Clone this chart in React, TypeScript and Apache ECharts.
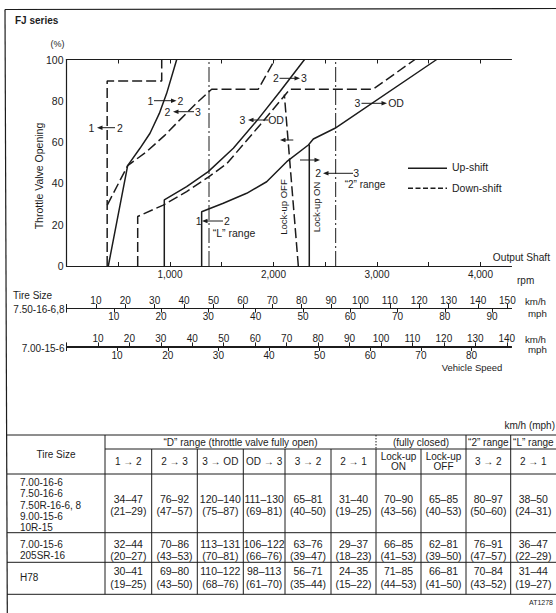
import React, { useEffect, useRef } from 'react';
import * as echarts from 'echarts';

const FONT = '"Liberation Sans",Arial,Helvetica,sans-serif';
const INK = '#1c1c1c';

// ---------- shift diagram data (output shaft rpm, throttle %) ----------
const rpmTicks = [500, 1000, 1500, 2000, 2500, 3000, 3500, 4000];
const rpmLabels = [1000, 2000, 3000, 4000];
const RPM_MAX = 4300;

const upShift12 = [[404, 0], [591, 48.6], [710, 57], [807, 64.3], [897, 73.9], [968, 83.6], [1065, 100]];
const upShift23 = [[945, 0], [945, 32], [1161, 38.4], [1370, 45.7], [1612, 57], [1850, 71], [2063, 84.5], [2300, 100]];
const upShift3OD = [[1306, 0], [1306, 26.3], [1515, 30.4], [1741, 35.2], [1934, 40.8], [2128, 50.5], [2337, 58.6], [2385, 61.5], [2594, 66.7], [3577, 100]];
const downShift21 = [[393, 0], [393, 89.6], [920, 89.6], [920, 100]];
const downShift32 = [[394, 29.5], [591, 48.6], [775, 55.4], [952, 63.4], [1100, 71], [1258, 79], [1403, 85.6], [1853, 85.6], [2014, 100]];
const downShiftOD3 = [[688, 0], [688, 24], [935, 29.5], [1161, 36], [1370, 43], [1548, 49.5], [1870, 68.3], [2159, 85.6], [2963, 85.6], [3367, 100]];
const lockUpOn = [[2346, 0], [2346, 58.8]];
const lockUpOff = [[2240, 0], [2105, 83]];
const rangeL21 = [[1377, 0], [1377, 100]];
const range2_32 = [[2601, 0], [2601, 100]];

// ---------- vehicle speed scales ----------
const kmh750Ticks = [0, 10, 20, 30, 40, 50, 60, 70, 80, 90, 100, 110, 120, 130, 140, 150];
const mph750Ticks = [0, 10, 20, 30, 40, 50, 60, 70, 80, 90];
const kmh700Ticks = [0, 10, 20, 30, 40, 50, 60, 70, 80, 90, 100, 110, 120, 130, 140];
const mph700Ticks = [0, 10, 20, 30, 40, 50, 60, 70, 80];
const KMH750_MAX = 151.4;
const MPH750_MAX = 94.1;
const KMH700_MAX = 141.5;
const MPH700_MAX = 87.9;

// ---------- table ----------
const groupHeaders = ['\u201CD\u201D range (throttle valve fully open)', '(fully closed)', '\u201C2\u201D range', '\u201CL\u201D range'];
const shiftHeaders = ['1 \u2192 2', '2 \u2192 3', '3 \u2192 OD', 'OD \u2192 3', '3 \u2192 2', '2 \u2192 1', 'Lock-up\nON', 'Lock-up\nOFF', '3 \u2192 2', '2 \u2192 1'];
const tireSizes = [
  ['7.00-16-6', '7.50-16-6', '7.50R-16-6, 8', '9.00-15-6', '10R-15'],
  ['7.00-15-6', '205SR-16'],
  ['H78'],
];
const kmhValues = [
  ['34\u201347', '76\u201392', '120\u2013140', '111\u2013130', '65\u201381', '31\u201340', '70\u201390', '65\u201385', '80\u201397', '38\u201350'],
  ['32\u201344', '70\u201386', '113\u2013131', '106\u2013122', '63\u201376', '29\u201337', '66\u201385', '62\u201381', '76\u201391', '36\u201347'],
  ['30\u201341', '69\u201380', '110\u2013122', '98\u2013113', '56\u201371', '24\u201335', '71\u201385', '66\u201381', '70\u201384', '31\u201344'],
];
const mphValues = [
  ['(21\u201329)', '(47\u201357)', '(75\u201387)', '(69\u201381)', '(40\u201350)', '(19\u201325)', '(43\u201356)', '(40\u201353)', '(50\u201360)', '(24\u201331)'],
  ['(20\u201327)', '(43\u201353)', '(70\u201381)', '(66\u201376)', '(39\u201347)', '(18\u201323)', '(41\u201353)', '(39\u201350)', '(47\u201357)', '(22\u201329)'],
  ['(19\u201325)', '(43\u201350)', '(68\u201376)', '(61\u201370)', '(35\u201344)', '(15\u201322)', '(44\u201353)', '(41\u201350)', '(43\u201352)', '(19\u201327)'],
];

// ---------- layout ----------
const colEdges = [7, 105, 151.7, 197.3, 243.3, 285, 331, 376, 421, 466, 510.7, 556];
const rowEdges = [435, 449, 474, 532.7, 562.3, 594.3];
const rowCenters = [505, 550, 577.5];
const groupSpans = [[1, 7], [7, 9], [9, 10], [10, 11]];

function txt(text: string, x: number, y: number, o: any = {}) {
  return {
    type: 'text', x, y, silent: true, rotation: o.rotation || 0,
    style: {
      text, fill: INK, fontSize: o.size || 10.5, fontFamily: FONT,
      fontWeight: o.weight || 'normal', align: o.align || 'center', verticalAlign: 'middle',
      lineHeight: o.lineHeight,
    },
  };
}
function seg(x1: number, y1: number, x2: number, y2: number, w = 1, dash: any = null) {
  return { type: 'line', silent: true, shape: { x1, y1, x2, y2 }, style: { stroke: INK, lineWidth: w, lineDash: dash } };
}
function arrowLine(x1: number, x2: number, y: number, dir: string) {
  const tip = dir === 'r' ? x2 : x1;
  const back = dir === 'r' ? tip - 5.5 : tip + 5.5;
  return [
    seg(dir === 'r' ? x1 : x1 + 4, y, dir === 'r' ? x2 - 4 : x2, y, 1),
    { type: 'polygon', silent: true, shape: { points: [[tip, y], [back, y - 2.3], [back, y + 2.3]] }, style: { fill: INK } },
  ];
}

const shiftMarks: any[] = [
  ['1', 91.5, '2', 120, 97, 115, 127.7, 'l'],
  ['1', 150.5, '2', 180.5, 154, 176.5, 100.7, 'r'],
  ['2', 167.5, '3', 198, 173, 194, 111.7, 'l'],
  ['3', 242.5, 'OD', 276, 248, 268.5, 120, 'l'],
  ['2', 275.8, '3', 304, 279.5, 300, 78.3, 'r'],
  ['3', 357.5, 'OD', 396, 361.5, 387, 103.3, 'r'],
  ['1', 198.7, '2', 226.8, 202, 223, 221, 'l'],
  ['2', 318.2, '3', 356.2, 323, 353, 173.3, 'l'],
];

function buildGraphic() {
  const g: any[] = [];
  // frame
  g.push(seg(5, 9.5, 7.3, 613, 1.2));
  g.push(seg(5, 9.5, 556, 8.5, 1.2));
  g.push(txt('FJ series', 15, 20.5, { align: 'left', weight: 'bold', size: 10 }));
  g.push(txt('(%)', 57.5, 43.5, { size: 9 }));
  g.push(txt('Throttle Valve Opening', 39, 176, { size: 10.5, rotation: Math.PI / 2 }));
  shiftMarks.forEach(([l, lx, r, rx, x1, x2, y, d]) => {
    g.push(txt(l, lx, y), txt(r, rx, y));
    g.push(...arrowLine(x1, x2, y, d));
  });
  g.push(...arrowLine(280, 293.3, 140, 'l'));
  g.push(...arrowLine(300, 320, 160, 'r'));
  g.push(txt('\u201CL\u201D range', 234, 233, { size: 10.5 }));
  g.push(txt('\u201C2\u201D range', 365, 184.5, { size: 10 }));
  g.push(txt('Lock-up OFF', 283.5, 207, { size: 9.5, rotation: Math.PI / 2 }));
  g.push(txt('Lock-up ON', 316.7, 207, { size: 9.5, rotation: Math.PI / 2 }));
  // legend
  g.push(seg(408, 168.3, 447, 168.3, 1.5));
  g.push(seg(408, 188.3, 447, 188.3, 1.5, [5, 2.5]));
  g.push(txt('Up-shift', 452, 167, { align: 'left' }));
  g.push(txt('Down-shift', 452, 188, { align: 'left' }));
  g.push(txt('Output Shaft', 550, 257, { align: 'right', size: 10.2 }));
  g.push(txt('rpm', 517, 280, { align: 'left', size: 10 }));
  // speed scales
  g.push(txt('Tire Size', 13, 295.7, { align: 'left', size: 10 }));
  g.push(txt('7.50-16-6,8', 64.5, 309, { align: 'right', size: 10 }));
  g.push(txt('7.00-15-6', 64.5, 348, { align: 'right', size: 10 }));
  g.push(txt('km/h', 525, 301.5, { align: 'left', size: 9.7 }));
  g.push(txt('mph', 528, 313.5, { align: 'left', size: 9.7 }));
  g.push(txt('km/h', 525, 339, { align: 'left', size: 9.7 }));
  g.push(txt('mph', 528, 349.5, { align: 'left', size: 9.7 }));
  g.push(txt('Vehicle Speed', 472, 367.5, { size: 9.5 }));
  // table
  const TS = 10;
  g.push(txt('km/h (mph)', 555, 425, { align: 'right', size: TS }));
  const L = colEdges[0], R = colEdges[colEdges.length - 1];
  g.push(seg(L, rowEdges[0], R, rowEdges[0]));
  g.push(seg(colEdges[1], rowEdges[1], R, rowEdges[1]));
  for (let i = 2; i < rowEdges.length; i++) g.push(seg(L, rowEdges[i], R, rowEdges[i]));
  const groupStarts = groupSpans.map((s) => s[0]);
  for (let c = 1; c < colEdges.length - 1; c++) {
    const x = colEdges[c];
    const gi = groupStarts.indexOf(c);
    if (gi === 1) {
      g.push(seg(x, rowEdges[0], x, rowEdges[1], 1, [1.5, 1.5]));
      g.push(seg(x, rowEdges[1], x, rowEdges[5]));
    } else if (gi >= 0) {
      g.push(seg(x, rowEdges[0], x, rowEdges[5]));
    } else {
      g.push(seg(x, rowEdges[1], x, rowEdges[5]));
    }
  }
  groupHeaders.forEach((h, i) => {
    const [a, b] = groupSpans[i];
    g.push(txt(h, (colEdges[a] + colEdges[b]) / 2, (rowEdges[0] + rowEdges[1]) / 2 + 0.5, { size: TS }));
  });
  g.push(txt('Tire Size', (colEdges[0] + colEdges[1]) / 2, (rowEdges[0] + rowEdges[2]) / 2, { size: TS }));
  shiftHeaders.forEach((h, i) => {
    g.push(txt(h, (colEdges[i + 1] + colEdges[i + 2]) / 2, (rowEdges[1] + rowEdges[2]) / 2, { size: TS, lineHeight: 10.5 }));
  });
  tireSizes.forEach((names, r) => {
    const cy = rowCenters[r];
    const step = 11.2;
    const y0 = cy - ((names.length - 1) * step) / 2;
    names.forEach((n, k) => g.push(txt(n, 20, y0 + k * step, { align: 'left', size: TS })));
    kmhValues[r].forEach((v, c) => {
      const cx = (colEdges[c + 1] + colEdges[c + 2]) / 2;
      g.push(txt(v, cx, cy - 6.4, { size: 10.5 }));
      g.push(txt(mphValues[r][c], cx, cy + 6.4, { size: 10.5 }));
    });
  });
  g.push(txt('AT1278', 553, 602, { align: 'right', size: 7 }));
  return g;
}

const axisLineStyle = { show: true, onZero: false, lineStyle: { color: INK, width: 1.2 } };
const labelStyle = { fontSize: 10, fontFamily: FONT, color: INK };

function speedAxis(grid: number, pos: string, max: number, ticks: number[]) {
  return {
    gridIndex: grid, type: 'value', position: pos, min: 0, max,
    axisLine: { show: true, onZero: false, lineStyle: { color: INK, width: 1.2 } },
    axisTick: { show: true, length: 4, customValues: ticks, lineStyle: { color: INK, width: 1 } },
    axisLabel: { ...labelStyle, margin: 3, customValues: ticks.filter((v) => v > 0) },
    splitLine: { show: false },
  };
}

function line(name: string, data: number[][], kind: string) {
  const style: any = { color: INK, width: 1.5, type: 'solid' };
  if (kind === 'dash') style.type = [10, 4];
  if (kind === 'dashdot') { style.type = [15, 3, 2, 3]; style.width = 1; }
  return { type: 'line', name, data, xAxisIndex: 0, yAxisIndex: 0, symbol: 'none', silent: true, lineStyle: style };
}

function buildOption() {
  return {
    animation: false,
    backgroundColor: '#fff',
    grid: [
      { left: 66.5, top: 59.5, width: 445, height: 206.5 },
      { left: 66.5, top: 308, width: 445, height: 0.6 },
      { left: 66.5, top: 346.4, width: 445, height: 0.6 },
    ],
    xAxis: [
      {
        gridIndex: 0, type: 'value', position: 'bottom', min: 0, max: RPM_MAX,
        axisLine: axisLineStyle,
        axisTick: { show: true, inside: true, length: 4, customValues: rpmTicks, lineStyle: { color: INK } },
        axisLabel: { ...labelStyle, margin: 3, customValues: rpmLabels, formatter: (v: number) => String(v).replace(/\B(?=(\d{3})+(?!\d))/g, ',') },
        splitLine: { show: false },
      },
      {
        gridIndex: 0, type: 'value', position: 'top', min: 0, max: RPM_MAX,
        axisLine: axisLineStyle,
        axisTick: { show: true, inside: true, length: 4, customValues: rpmTicks, lineStyle: { color: INK } },
        axisLabel: { show: false }, splitLine: { show: false },
      },
      speedAxis(1, 'top', KMH750_MAX, kmh750Ticks),
      speedAxis(1, 'bottom', MPH750_MAX, mph750Ticks),
      speedAxis(2, 'top', KMH700_MAX, kmh700Ticks),
      speedAxis(2, 'bottom', MPH700_MAX, mph700Ticks),
    ],
    yAxis: [
      {
        gridIndex: 0, type: 'value', min: 0, max: 100, interval: 20,
        axisLine: axisLineStyle, axisTick: { show: false },
        axisLabel: { ...labelStyle, fontSize: 10.5, margin: 3 }, splitLine: { show: false },
      },
      { gridIndex: 1, type: 'value', show: false, min: 0, max: 1 },
      { gridIndex: 2, type: 'value', show: false, min: 0, max: 1 },
    ],
    series: [
      line('1→2 up', upShift12, 'solid'),
      line('2→3 up', upShift23, 'solid'),
      line('3→OD up', upShift3OD, 'solid'),
      line('2→1 down', downShift21, 'dash'),
      line('3→2 down', downShift32, 'dash'),
      line('OD→3 down', downShiftOD3, 'dash'),
      line('Lock-up ON', lockUpOn, 'solid'),
      line('Lock-up OFF', lockUpOff, 'dash'),
      line('L range 2→1', rangeL21, 'dashdot'),
      line('2 range 3→2', range2_32, 'dashdot'),
    ],
    graphic: buildGraphic(),
  };
}

export default function App() {
  const ref = useRef<HTMLDivElement>(null);
  useEffect(() => {
    document.body.style.margin = '0';
    const chart = echarts.init(ref.current as HTMLDivElement, null, { renderer: 'svg' });
    chart.setOption(buildOption() as any);
    return () => chart.dispose();
  }, []);
  return <div ref={ref} style={{ width: 556, height: 613, background: '#fff' }} />;
}
